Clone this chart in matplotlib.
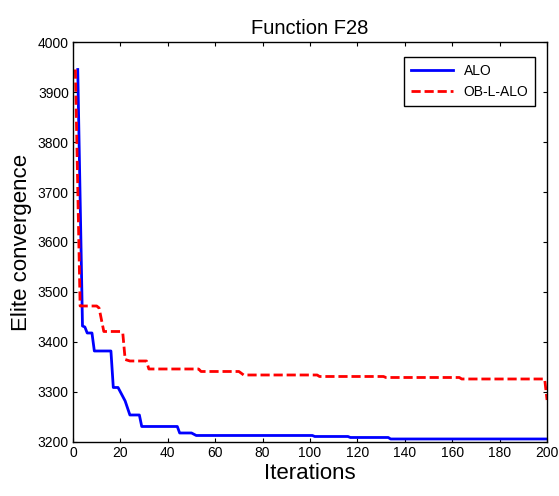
# Convergence curves of ALO vs OB-L-ALO on function F28
import numpy as np
import matplotlib as mpl
import matplotlib.pyplot as plt

mpl.rcParams.update({
    "font.family": ["Liberation Sans", "DejaVu Sans"],
    "xtick.direction": "in",
    "ytick.direction": "in",
    "xtick.top": True,
    "ytick.right": True,
})

# vertices (iteration, best score)
alo_iter = [2, 4, 5, 6, 8, 9, 16, 17, 19, 20, 22, 24, 28, 29, 44, 45, 50, 52,
            101, 102, 116, 117, 133, 134, 200]
alo_val = [3945, 3432, 3430, 3418, 3418, 3382, 3382, 3309, 3309, 3300, 3282,
           3254, 3254, 3231, 3231, 3218, 3218, 3213, 3213, 3211, 3211, 3209, 3209,
           3206, 3206]

obl_iter = [1, 3, 10, 11, 13, 20, 21, 22, 24, 31, 32, 53, 54, 70, 72, 103, 104,
            131, 132, 163, 164, 199, 200]
obl_val = [3945, 3472, 3472, 3468, 3421, 3421, 3418, 3365, 3362, 3362, 3346, 3346,
           3341, 3341, 3334, 3334, 3331, 3331, 3329, 3329, 3326, 3326, 3284]

fig = plt.figure(figsize=(5.59, 4.96), dpi=100)
ax = fig.add_axes([0.1306, 0.1089, 0.848, 0.8064])

ax.plot(alo_iter, alo_val, color='blue', linewidth=2, label='ALO')
ax.plot(obl_iter, obl_val, color='red', linewidth=2, linestyle=(0, (3.3, 1.4)),
        label='OB-L-ALO')

ax.set_xlim(0, 200)
ax.set_ylim(3200, 4000)
ax.set_xticks(np.arange(0, 201, 20))
ax.set_yticks(np.arange(3200, 4001, 100))
ax.tick_params(labelsize=10, length=3, width=0.8, pad=3)
for s in ax.spines.values():
    s.set_linewidth(1.0)

ax.set_title("Function F28", fontsize=14.5, pad=6)
ax.set_xlabel("Iterations", fontsize=16, labelpad=2)
ax.set_ylabel("Elite convergence", fontsize=16, labelpad=4)

leg = ax.legend(loc='upper right', bbox_to_anchor=(0.99, 0.98), fontsize=10,
                handlelength=3.0, fancybox=False, framealpha=1,
                edgecolor='black', borderpad=0.5, labelspacing=0.5)
leg.get_frame().set_linewidth(1.0)

plt.savefig('out.png', dpi=100)
